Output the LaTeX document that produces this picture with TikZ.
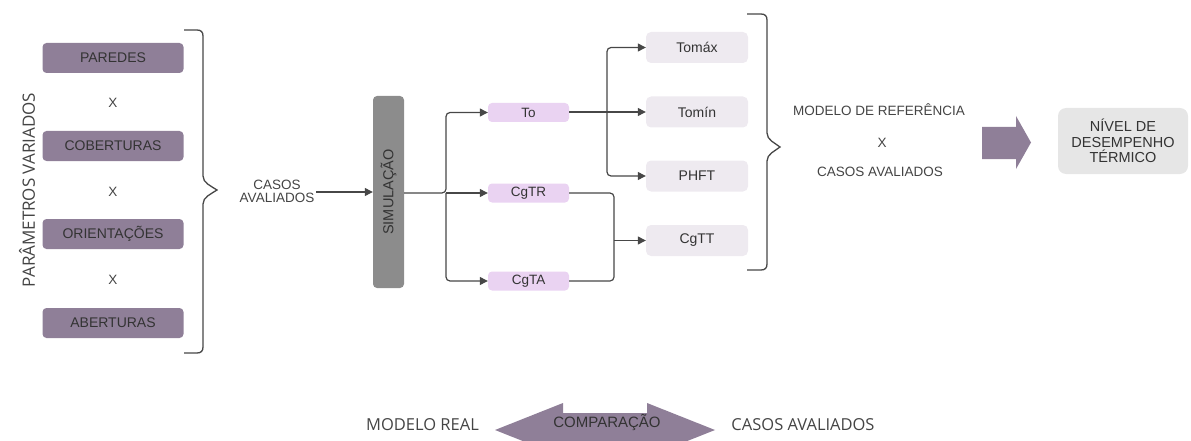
\documentclass[tikz,border=0pt]{standalone}
\usepackage{fontspec}
\setmainfont{Liberation Sans}
\newfontfamily\osans{Open Sans}
\usetikzlibrary{arrows.meta}
\definecolor{pbox}{HTML}{8F7F98}
\definecolor{simgrey}{HTML}{8C8C8C}
\definecolor{pink}{HTML}{EAD3F2}
\definecolor{lbox}{HTML}{EEEAF0}
\definecolor{nbox}{HTML}{E6E6E6}
\definecolor{conn}{HTML}{474747}
\definecolor{txt}{HTML}{333333}
\definecolor{ltxt}{HTML}{444444}
\tikzset{
  pnode/.style={fill=pbox, rounded corners=4pt, minimum width=141pt, minimum height=30pt, inner sep=0pt, text=txt, font=\fontsize{14}{16}\selectfont},
  xlab/.style={text=ltxt, font=\fontsize{13.5}{15}\selectfont, inner sep=0pt},
  tlab/.style={text=ltxt, font=\fontsize{13.5}{15}\selectfont, inner sep=0pt, align=center},
  pinkbox/.style={fill=pink, rounded corners=4pt, minimum width=81pt, minimum height=19pt, inner sep=0pt, text=txt, font=\fontsize{13.5}{15}\selectfont},
  lightbox/.style={fill=lbox, rounded corners=5pt, minimum width=102pt, minimum height=31pt, inner sep=0pt, text=txt, font=\fontsize{14}{16}\selectfont},
  conline/.style={draw=conn, line width=1.2pt},
  arr/.style={conline, -{Triangle[length=8pt,width=8pt]}},
  bracepath/.style={draw=conn, line width=1.3pt},
  bigarrow/.style={fill=pbox, draw=none},
  otxt/.style={text=ltxt, font=\osans\fontsize{16.5}{19}\selectfont, inner sep=0pt}
}
\begin{document}
\begin{tikzpicture}[x=1pt,y=-1pt]
\useasboundingbox (0,0) rectangle (1191,441);
% left column
\node[pnode] (par) at (113,58) {PAREDES};
\node[xlab] (x1) at (113,103) {X};
\node[pnode] (cob) at (113,146) {COBERTURAS};
\node[xlab] (x2) at (113,192) {X};
\node[pnode] (ori) at (113,234) {ORIENTAÇÕES};
\node[xlab] (x3) at (113,280) {X};
\node[pnode] (abe) at (113,323) {ABERTURAS};
\node[otxt, font=\osans\fontsize{17}{19}\selectfont, rotate=90] (pv) at (27,190) {PARÂMETROS VARIADOS};
% brace 1
\draw[bracepath] (184,30) -- (197,30) .. controls (201,30) and (203,32) .. (203,36)
  -- (203,176) .. controls (203,183) and (211,186) .. (217,190)
  .. controls (211,194) and (203,197) .. (203,204)
  -- (203,347) .. controls (203,351) and (201,353) .. (197,353) -- (184,353);
\node[tlab] (casos) at (277,191) {CASOS\\[-2pt]AVALIADOS};
% simulation
\node[fill=simgrey, rounded corners=4pt, minimum width=31pt, minimum height=192pt, inner sep=0pt] (sim) at (388.5,192) {};
\node[text=txt, font=\fontsize{14.5}{16}\selectfont, rotate=90, inner sep=0pt] (simt) at (sim.center) {SIMULAÇÃO};
\draw[arr] (casos.east |- sim.west) ++(2,0) coordinate (cs) (cs) -- (sim.west);
% outputs
\node[pinkbox] (to) at (528.5,112.5) {To};
\node[pinkbox] (cgtr) at (528.5,193) {CgTR};
\node[pinkbox] (cgta) at (528.5,281) {CgTA};
\coordinate (j1) at (446,193);
\draw[arr, rounded corners=4pt] (sim.east |- j1) -- (j1) |- (to.west);
\draw[arr] (j1) -- (cgtr.west);
\draw[arr, rounded corners=4pt] (j1) |- (cgta.west);
\node[lightbox] (tmax) at (697,47.5) {Tomáx};
\node[lightbox] (tmin) at (697,112) {Tomín};
\node[lightbox] (phft) at (697,176) {PHFT};
\node[lightbox] (cgtt) at (697,240.5) {CgTT};
\coordinate (j2) at (607,112);
\draw[arr] (to.east |- tmin.west) -- (tmin.west);
\draw[arr, rounded corners=4pt] (j2) |- (tmax.west);
\draw[arr, rounded corners=4pt] (j2) |- (phft.west);
\coordinate (j3) at (614,240.5);
\draw[conline, rounded corners=4pt] (cgtr.east) -| (j3) |- (cgta.east);
\draw[arr] (j3) -- (cgtt.west);
% brace 2
\draw[bracepath] (747,14) -- (761,14) .. controls (765,14) and (767,16) .. (767,20)
  -- (767,133) .. controls (767,140) and (775,143) .. (780,147)
  .. controls (775,151) and (767,154) .. (767,161)
  -- (767,264) .. controls (767,268) and (765,270) .. (761,270) -- (747,270);
\node[tlab] (mref) at (879,110) {MODELO DE REFERÊNCIA};
\node[tlab] (x4) at (882,143) {X};
\node[tlab] (cav) at (880,172) {CASOS AVALIADOS};
% big arrow
\path[bigarrow] (982,127) -- (1016,127) -- (1016,116) -- (1031,142.5) -- (1016,169) -- (1016,159) -- (982,159) -- cycle;
\node[fill=nbox, rounded corners=8pt, minimum width=130pt, minimum height=66pt, inner sep=0pt, text=txt, align=center, font=\fontsize{14.5}{15.5}\selectfont] (niv) at (1123,141) {NÍVEL DE\\DESEMPENHO\\TÉRMICO};
% bottom
\path[bigarrow] (495,430) -- (563,403) -- (563,413) -- (647,413) -- (647,403) -- (715,430) -- (647,457) -- (647,447) -- (563,447) -- (563,457) -- cycle;
\node[text=txt, font=\fontsize{15}{17}\selectfont, inner sep=0pt] (comp) at (607,423) {COMPARAÇÃO};
\node[otxt] (mreal) at (422.5,425) {MODELO REAL};
\node[otxt] (cav2) at (803,425) {CASOS AVALIADOS};
\end{tikzpicture}
\end{document}
